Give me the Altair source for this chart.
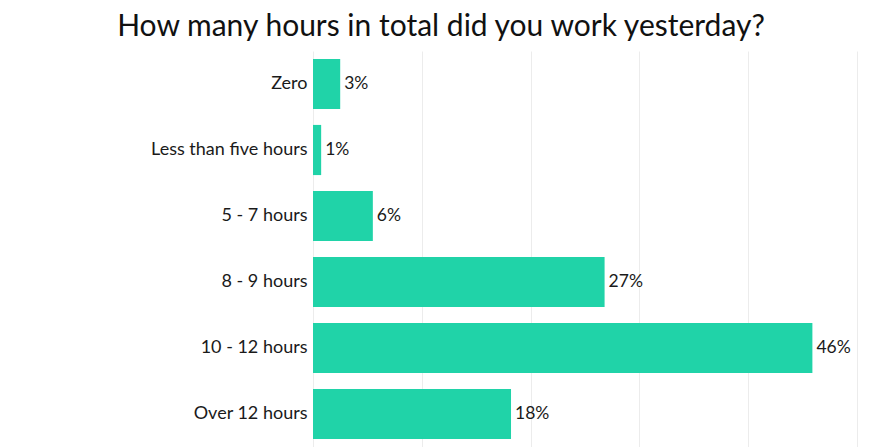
import altair as alt
import pandas as pd

categories = ["Zero", "Less than five hours", "5 - 7 hours", "8 - 9 hours", "10 - 12 hours", "Over 12 hours"]
values = [2.5, 0.75, 5.5, 26.8, 45.9, 18.2]
labels = ["3%", "1%", "6%", "27%", "46%", "18%"]
grid_values = [0, 10, 20, 30, 40, 50]

df = pd.DataFrame({"cat": categories, "val": values, "lab": labels})

FONT = "Lato"

y = alt.Y(
    "cat:N",
    sort=categories,
    title=None,
    scale=alt.Scale(paddingInner=0.24, paddingOuter=0.12),
    axis=alt.Axis(
        labelFont=FONT, labelFontSize=18, labelColor="#1a1a1a",
        labelPadding=6, ticks=False, domain=False, grid=False,
        labelLimit=300,
    ),
)
x = alt.X(
    "val:Q",
    title=None,
    scale=alt.Scale(domain=[0, 50], nice=False),
    axis=alt.Axis(
        values=grid_values, labels=False, ticks=False, domain=False,
        grid=True, gridColor="#ececec", gridWidth=1,
    ),
)

bars = alt.Chart(df).mark_bar(color="#20d3a8").encode(x=x, y=y)
text = alt.Chart(df).mark_text(
    align="left", baseline="middle", dx=4, font=FONT, fontSize=17.5, color="#1a1a1a"
).encode(x="val:Q", y=alt.Y("cat:N", sort=categories), text="lab:N")

chart = (
    alt.layer(bars, text)
    .properties(
        width=544,
        height=396,
        title=alt.TitleParams(
            "How many hours in total did you work yesterday?",
            font=FONT, fontSize=30, fontWeight="normal", color="#111111",
            anchor="middle", frame="group", dx=-144, offset=9,
        ),
        autosize=alt.AutoSizeParams(type="none"),
        padding={"left": 305, "top": 43, "right": 16, "bottom": 0},
    )
    .configure_view(stroke=None)
)

chart.save("out.html", embed_options={"renderer": "svg", "actions": False})
